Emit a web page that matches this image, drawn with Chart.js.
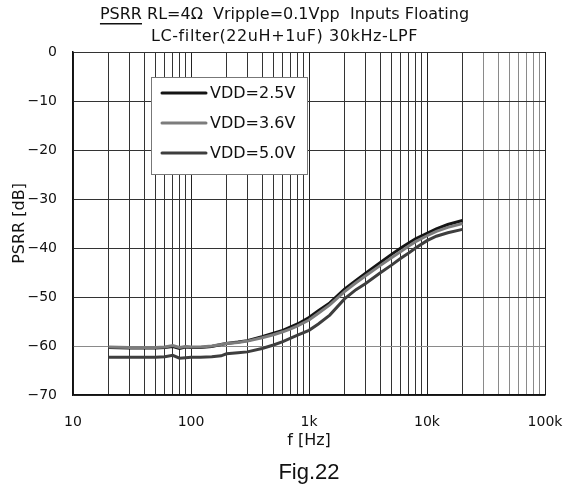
<!DOCTYPE html>
<html>
<head>
<meta charset="utf-8">
<script src="https://cdn.jsdelivr.net/npm/chart.js@4.4.1/dist/chart.umd.min.js"></script>
<style>
html, body { margin: 0; padding: 0; background: #fff; }
</style>
</head>
<body>
<canvas id="psrrChart" width="569" height="491"></canvas>
<script>
// frecuencias medidas (Hz)
const frecuencias = [20, 30, 40, 50, 60, 70, 80, 90, 100, 120, 150, 180, 200, 250, 300, 400, 500, 600, 700, 800,
    1000, 1200, 1500, 2000, 2500, 3000, 4000, 5000, 6000, 7000, 8000, 10000, 12000, 15000, 20000];

// PSRR en dB
const vdd25 = [-60.3, -60.4, -60.4, -60.4, -60.3, -60.1, -60.5, -60.2, -60.3, -60.3, -60.1, -59.7, -59.5, -59.2, -58.9, -58.1, -57.4, -56.8, -56.1, -55.5,
    -54.2, -52.8, -51.2, -48.4, -46.6, -45.2, -43.0, -41.3, -40.0, -39.0, -38.1, -37.0, -36.1, -35.2, -34.4];
const vdd36 = [-60.2, -60.3, -60.3, -60.3, -60.2, -59.9, -60.3, -60.1, -60.2, -60.2, -60.0, -59.7, -59.5, -59.3, -59.0, -58.3, -57.7, -57.1, -56.5, -55.9,
    -54.7, -53.3, -51.6, -48.9, -47.1, -45.7, -43.6, -42.0, -40.7, -39.6, -38.7, -37.5, -36.6, -35.8, -35.0];
const vdd50 = [-62.3, -62.3, -62.3, -62.3, -62.2, -61.9, -62.5, -62.4, -62.3, -62.3, -62.2, -62.0, -61.6, -61.4, -61.2, -60.5, -59.8, -59.1, -58.4, -57.8,
    -56.8, -55.5, -53.7, -50.4, -48.5, -47.3, -45.1, -43.5, -42.1, -41.0, -40.0, -38.5, -37.6, -36.9, -36.2];

const etiquetasSerie = ['VDD=2.5V', 'VDD=3.6V', 'VDD=5.0V'];
const coloresSerie = ['#141414', '#7c7c7c', '#3e3e3e'];

const decadasX = [10, 100, 1000, 10000, 100000];
const etiquetasX = ['10', '100', '1k', '10k', '100k'];
const ticksY = [0, -10, -20, -30, -40, -50, -60, -70];
const etiquetasY = ['0', '−10', '−20', '−30', '−40', '−50', '−60', '−70'];

const tituloSubrayado = 'PSRR';
const tituloResto = ' RL=4Ω  Vripple=0.1Vpp  Inputs Floating';
const tituloLinea2 = 'LC-filter(22uH+1uF) 30kHz-LPF';
const pieFigura = 'Fig.22';

let myPsrrChart;

function puntosSerie(valores) {
    return frecuencias.map((f, i) => ({ x: f, y: valores[i] }));
}

function ticksLog() {
    const lista = [];
    for (let d = 0; d < decadasX.length - 1; d++) {
        for (let m = 1; m < 10; m++) {
            lista.push({ value: decadasX[d] * m });
        }
    }
    lista.push({ value: decadasX[decadasX.length - 1] });
    return lista;
}

function colorGrillaX(valor) {
    if (decadasX.includes(valor)) return '#222';
    if (valor > 20000) return '#8a8a8a';
    if (valor > 10 && valor < 20) return 'rgba(0,0,0,0)';
    return '#333';
}

const decoracion = {
    id: 'decoracion',
    afterDraw(chart) {
        const ctx = chart.ctx;
        ctx.save();
        ctx.fillStyle = '#111';
        ctx.textBaseline = 'middle';

        // titulo
        ctx.font = '16px "DejaVu Sans"';
        const anchoTotal = ctx.measureText(tituloSubrayado + tituloResto).width;
        const anchoSub = ctx.measureText(tituloSubrayado).width;
        const x0 = chart.width / 2 - anchoTotal / 2;
        ctx.textAlign = 'left';
        ctx.fillText(tituloSubrayado, x0, 15);
        ctx.fillRect(x0, 23, anchoSub, 1.5);
        ctx.fillText(tituloResto, x0 + anchoSub, 15);
        ctx.textAlign = 'center';
        ctx.letterSpacing = '0.6px';
        ctx.fillText(tituloLinea2, chart.width / 2, 37);
        ctx.letterSpacing = '0px';

        // leyenda dentro del area
        const bx = 151, by = 77, bw = 156, bh = 97;
        ctx.fillStyle = '#fff';
        ctx.fillRect(bx, by, bw, bh);
        ctx.strokeStyle = '#777';
        ctx.lineWidth = 1;
        ctx.strokeRect(bx + 0.5, by + 0.5, bw, bh);
        ctx.font = '16px "DejaVu Sans"';
        ctx.textAlign = 'left';
        etiquetasSerie.forEach((texto, i) => {
            const yy = 93 + i * 30;
            ctx.strokeStyle = coloresSerie[i];
            ctx.lineWidth = 3;
            ctx.lineCap = 'round';
            ctx.beginPath();
            ctx.moveTo(162, yy);
            ctx.lineTo(206, yy);
            ctx.stroke();
            ctx.fillStyle = '#111';
            ctx.fillText(texto, 210, yy + 1);
        });

        // pie
        ctx.font = '22px "Liberation Sans"';
        ctx.textAlign = 'center';
        ctx.fillText(pieFigura, 309, 473);
        ctx.restore();
    }
};

function renderizarGrafico() {
    const ctx = document.getElementById('psrrChart').getContext('2d');
    if (myPsrrChart) {
        myPsrrChart.destroy();
    }
    myPsrrChart = new Chart(ctx, {
        type: 'line',
        data: {
            datasets: [
                { label: etiquetasSerie[2], data: puntosSerie(vdd50), borderColor: coloresSerie[2] },
                { label: etiquetasSerie[1], data: puntosSerie(vdd36), borderColor: coloresSerie[1] },
                { label: etiquetasSerie[0], data: puntosSerie(vdd25), borderColor: coloresSerie[0] }
            ].map(ds => Object.assign(ds, { borderWidth: 3, pointRadius: 0, tension: 0, fill: false }))
        },
        options: {
            responsive: false,
            animation: false,
            layout: { padding: { top: 52, right: 24, bottom: 41, left: 0 } },
            plugins: {
                legend: { display: false },
                tooltip: { enabled: false }
            },
            scales: {
                x: {
                    type: 'logarithmic',
                    min: 10,
                    max: 100000,
                    afterBuildTicks: scale => { scale.ticks = ticksLog(); },
                    afterFit: scale => {
                        scale.height = 55;
                        scale.paddingLeft = 0;
                        scale.paddingRight = 0;
                    },
                    ticks: {
                        autoSkip: false,
                        maxRotation: 0,
                        padding: 19,
                        color: '#111',
                        font: { family: 'DejaVu Sans', size: 14 },
                        callback: value => {
                            const i = decadasX.indexOf(value);
                            return i >= 0 ? etiquetasX[i] : '';
                        }
                    },
                    grid: {
                        drawTicks: false,
                        lineWidth: 1,
                        color: c => colorGrillaX(c.tick ? c.tick.value : 0)
                    },
                    border: { color: '#111', width: 1.5 },
                    title: {
                        display: true,
                        text: 'f [Hz]',
                        color: '#111',
                        font: { family: 'DejaVu Sans', size: 16 },
                        padding: { top: 0, bottom: 0 }
                    }
                },
                y: {
                    min: -70,
                    max: 0,
                    afterBuildTicks: scale => { scale.ticks = ticksY.map(v => ({ value: v })); },
                    afterFit: scale => {
                        scale.width = 73;
                        scale.paddingTop = 0;
                        scale.paddingBottom = 0;
                    },
                    ticks: {
                        padding: 16,
                        color: '#111',
                        font: { family: 'DejaVu Sans', size: 14 },
                        callback: value => etiquetasY[ticksY.indexOf(value)]
                    },
                    grid: {
                        drawTicks: false,
                        lineWidth: 1,
                        color: c => (c.tick && c.tick.value === -60) ? '#8a8a8a' : '#333'
                    },
                    border: { color: '#111', width: 1.5 },
                    title: {
                        display: true,
                        text: 'PSRR [dB]',
                        color: '#111',
                        font: { family: 'DejaVu Sans', size: 16 },
                        padding: { top: 10, bottom: 0 }
                    }
                }
            }
        },
        plugins: [decoracion]
    });
}

renderizarGrafico();
</script>
</body>
</html>
